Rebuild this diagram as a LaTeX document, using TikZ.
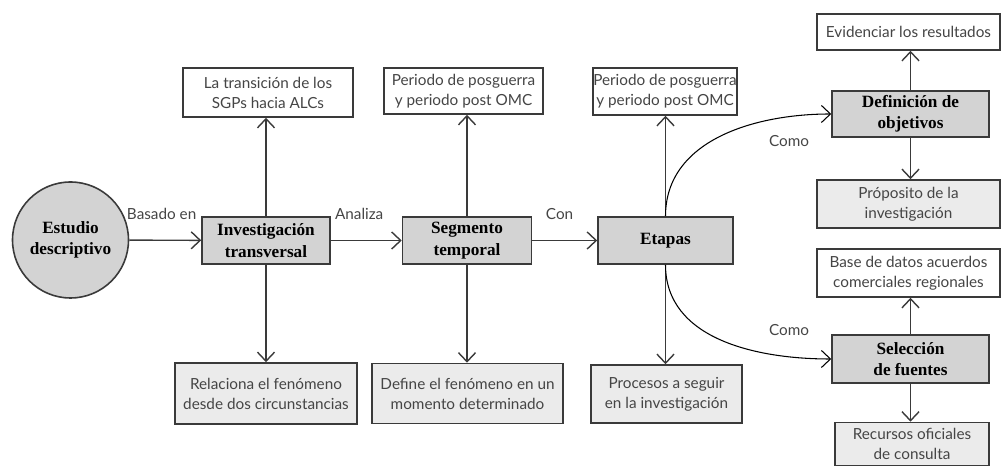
\documentclass[tikz,border=0pt]{standalone}
\usepackage{fontspec}
\setmainfont{Lato}
\newfontfamily\headfont{Liberation Serif}
\usepackage{xcolor}
\usetikzlibrary{arrows.meta,shapes}

\definecolor{boxline}{HTML}{3A3A3A}
\definecolor{darkfill}{HTML}{D3D3D3}
\definecolor{lightfill}{HTML}{EBEBEB}
\definecolor{txt}{HTML}{454545}

\begin{document}
\begin{tikzpicture}[x=0.2mm,y=-0.2mm]
		\tikzstyle{box}=[draw=boxline, line width=0.9pt, inner sep=0pt, align=center, text=txt, font=\fontsize{8.7}{11.4}\selectfont]
		\tikzstyle{stage}=[box, fill=darkfill, text=black, font=\headfont\bfseries\fontsize{9.8}{12.2}\selectfont]
		\tikzstyle{result}=[box, fill=white]
		\tikzstyle{detail}=[box, fill=lightfill]
		\tikzstyle{link}=[draw=boxline, line width=0.8pt, -{Straight Barb[length=1.8mm,width=3.4mm]}]
		\tikzstyle{curve}=[link, draw=black, line width=0.6pt]
		\tikzstyle{link_text}=[inner sep=0pt, text=txt, font=\fontsize{8.7}{11.4}\selectfont]

		\useasboundingbox (0,0) rectangle (1001,466);

		% main line
		\node [stage, circle, minimum size=23.2mm] (estudio) at (70.5,240) {Estudio\\descriptivo};
		\node [stage, minimum width=25.6mm, minimum height=9.4mm] (inv) at (266,240.5) {Investigación\\transversal};
		\node [stage, minimum width=25.8mm, minimum height=9.4mm] (seg) at (467,240.5) {Segmento\\temporal};
		\node [stage, minimum width=27mm, minimum height=9.4mm] (etapas) at (665.5,240.5) {Etapas};

		% upper row
		\node [result, minimum width=34mm, minimum height=9.8mm] (top1) at (268,92.5) {La transición de los\\SGPs hacia ALCs};
		\node [result, minimum width=31.8mm, minimum height=9.2mm] (top2) at (463.5,91) {Periodo de posguerra\\y periodo post OMC};
		\node [result, minimum width=28.8mm, minimum height=9.4mm] (top3) at (665,91.5) {Periodo de posguerra\\y periodo post OMC};

		% lower row
		\node [detail, minimum width=36.4mm, minimum height=12.2mm] (bot1) at (266,393.5) {Relaciona el fenómeno\\desde dos circunstancias};
		\node [detail, minimum width=38.2mm, minimum height=12mm] (bot2) at (467.5,393.5) {Define el fenómeno en un\\momento determinado};
		\node [detail, minimum width=30.2mm, minimum height=11.6mm] (bot3) at (666.5,394) {Procesos a seguir\\en la investigación};

		% right column
		\node [stage, minimum width=31.4mm, minimum height=9.2mm] (def) at (910.5,114) {Definición de\\objetivos};
		\node [result, minimum width=36.6mm, minimum height=7.2mm] (evid) at (908.5,32) {Evidenciar los resultados};
		\node [detail, minimum width=36.6mm, minimum height=9.6mm] (prop) at (908.5,204) {Próposito de la\\investigación};
		\node [stage, minimum width=31.4mm, minimum height=9.6mm] (sel) at (910.5,359) {Selección\\de fuentes};
		\node [result, minimum width=36.6mm, minimum height=9.6mm] (base) at (908.5,273) {Base de datos acuerdos\\comerciales regionales};
		\node [detail, minimum width=30.8mm, minimum height=8.6mm] (rec) at (912,444) {Recursos oficiales\\de consulta};

		% connectors
		\draw [link] (estudio) -- node [link_text, above=4mm, pos=0.45] {Basado en} (inv);
		\draw [link] (inv) -- node [link_text, above=4mm, pos=0.4] {Analiza} (seg);
		\draw [link] (seg) -- node [link_text, above=4mm, pos=0.42] {Con} (etapas);

		\draw [link] (inv.north) -- (inv.north |- top1.south);
		\draw [link] (inv.south) -- (inv.south |- bot1.north);
		\draw [link] (seg.north) -- (seg.north |- top2.south);
		\draw [link] (seg.south) -- (seg.south |- bot2.north);
		\draw [link] (etapas.north) -- (etapas.north |- top3.south);
		\draw [link] (etapas.south) -- (etapas.south |- bot3.north);

		\draw [curve] (etapas.north) to [out=90, in=180] (def.west);
		\draw [curve] (etapas.south) to [out=-90, in=180] (sel.west);
		\node [link_text] (como1) at (789,141) {Como};
		\node [link_text] (como2) at (789,330) {Como};

		\draw [link] (def.north) -- (def.north |- evid.south);
		\draw [link] (def.south) -- (def.south |- prop.north);
		\draw [link] (sel.north) -- (sel.north |- base.south);
		\draw [link] (sel.south) -- (sel.south |- rec.north);

	\end{tikzpicture}
\end{document}
